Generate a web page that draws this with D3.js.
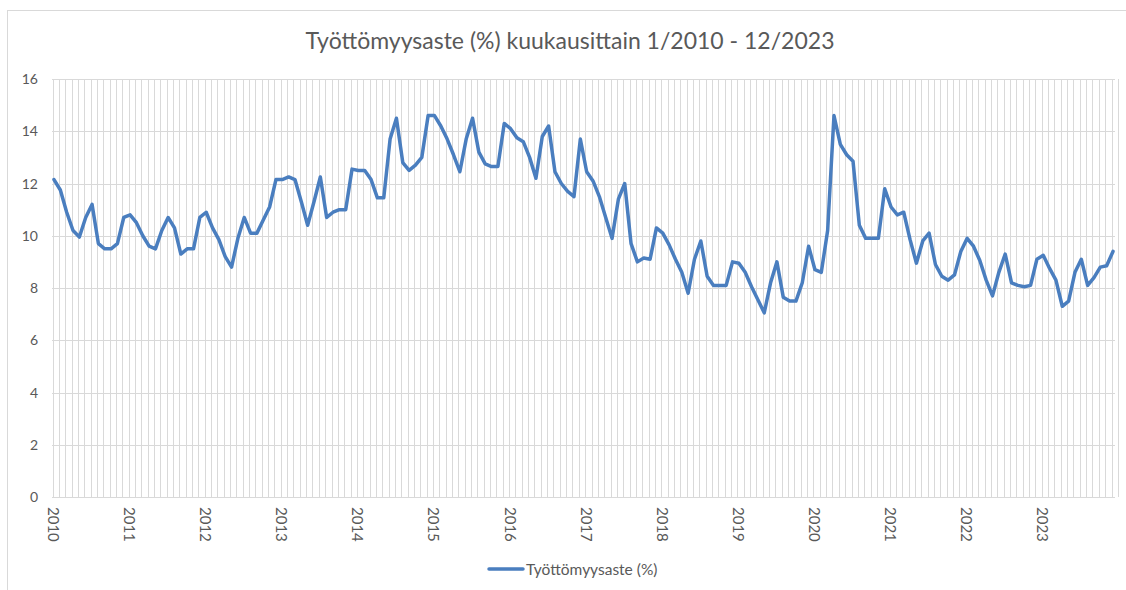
<!DOCTYPE html>
<html>
<head>
<meta charset="utf-8">
<script src="https://cdn.jsdelivr.net/npm/d3@7"></script>
<style>
  body { margin: 0; background: #fff; }
  text { font-family: Lato, "Open Sans", sans-serif; }
</style>
</head>
<body>
<div id="viz"></div>
<script>

var years = [2010, 2011, 2012, 2013, 2014, 2015, 2016, 2017, 2018, 2019, 2020, 2021, 2022, 2023];
var yTicks = [0, 2, 4, 6, 8, 10, 12, 14, 16];
var seriesName = "Työttömyysaste (%)";
var title = "Työttömyysaste (%) kuukausittain 1/2010 - 12/2023";

// monthly values, one row per year
var v2010 = [12.15, 11.75, 10.9, 10.2, 9.95, 10.7, 11.2, 9.7, 9.5, 9.5, 9.7, 10.7];
var v2011 = [10.8, 10.5, 10.0, 9.6, 9.5, 10.2, 10.7, 10.3, 9.3, 9.5, 9.5, 10.7];
var v2012 = [10.9, 10.3, 9.85, 9.2, 8.8, 9.9, 10.7, 10.1, 10.1, 10.6, 11.1, 12.15];
var v2013 = [12.15, 12.25, 12.15, 11.3, 10.4, 11.3, 12.25, 10.7, 10.9, 11.0, 11.0, 12.55];
var v2014 = [12.5, 12.5, 12.15, 11.45, 11.45, 13.7, 14.5, 12.8, 12.5, 12.7, 13.0, 14.6];
var v2015 = [14.6, 14.2, 13.7, 13.1, 12.45, 13.7, 14.5, 13.2, 12.75, 12.65, 12.65, 14.3];
var v2016 = [14.1, 13.75, 13.6, 13.0, 12.2, 13.8, 14.2, 12.45, 12.0, 11.7, 11.5, 13.7];
var v2017 = [12.45, 12.1, 11.5, 10.7, 9.9, 11.4, 12.0, 9.7, 9.0, 9.15, 9.1, 10.3];
var v2018 = [10.1, 9.65, 9.1, 8.6, 7.8, 9.1, 9.8, 8.45, 8.1, 8.1, 8.1, 9.0];
var v2019 = [8.95, 8.6, 8.05, 7.55, 7.05, 8.2, 9.0, 7.65, 7.5, 7.5, 8.2, 9.6];
var v2020 = [8.7, 8.6, 10.2, 14.6, 13.5, 13.1, 12.85, 10.4, 9.9, 9.9, 9.9, 11.8];
var v2021 = [11.1, 10.8, 10.9, 9.85, 8.95, 9.8, 10.1, 8.9, 8.45, 8.3, 8.5, 9.4];
var v2022 = [9.9, 9.6, 9.05, 8.3, 7.7, 8.6, 9.3, 8.2, 8.1, 8.05, 8.1, 9.1];
var v2023 = [9.25, 8.75, 8.3, 7.3, 7.5, 8.6, 9.1, 8.1, 8.4, 8.8, 8.85, 9.4];

var rows = [v2010, v2011, v2012, v2013, v2014, v2015, v2016, v2017, v2018, v2019, v2020, v2021, v2022, v2023];

var dat = [];
rows.forEach(function(r, yi) {
	r.forEach(function(v, m) { dat.push({ year: years[yi], month: m, i: yi * 12 + m, value: v }); });
});

var viz = { width: 1126, height: 590 };
var plot = { left: 54, right: 1113, top: 79, bottom: 497 };

var svg = d3.select("#viz")
	.append("svg")
	.attr("width", viz.width)
	.attr("height", viz.height);

// chart frame
svg.append("rect")
	.attr("x", 7.5).attr("y", 10.5)
	.attr("width", 1130).attr("height", 590)
	.attr("fill", "#fff")
	.attr("stroke", "#d9d9d9");

var x = d3.scaleLinear().domain([0, dat.length - 1]).range([plot.left, plot.right]);
var y = d3.scaleLinear().domain([0, 16]).range([plot.bottom, plot.top]);

// vertical gridlines, one per month
svg.append("g")
	.selectAll("line")
	.data(d3.range(dat.length + 1)).enter()
	.append("line")
	.attr("x1", function(d) { return Math.round(x(d) - 1.5) + 0.5 })
	.attr("x2", function(d) { return Math.round(x(d) - 1.5) + 0.5 })
	.attr("y1", plot.top).attr("y2", plot.bottom)
	.attr("stroke", "#d9d9d9");

// horizontal gridlines
svg.append("g")
	.selectAll("line")
	.data(yTicks).enter()
	.append("line")
	.attr("x1", plot.left - 2).attr("x2", plot.right + 2)
	.attr("y1", function(d) { return Math.round(y(d)) + 0.5 })
	.attr("y2", function(d) { return Math.round(y(d)) + 0.5 })
	.attr("stroke", "#d9d9d9");

// y tick labels
svg.append("g")
	.selectAll("text")
	.data(yTicks).enter()
	.append("text")
	.attr("x", 38)
	.attr("y", function(d) { return y(d) + 5 })
	.attr("text-anchor", "end")
	.attr("font-size", 14)
	.attr("fill", "#595959")
	.text(function(d) { return d });

// year labels, rotated
svg.append("g")
	.selectAll("text")
	.data(years).enter()
	.append("text")
	.attr("transform", function(d, i) { return "translate(" + (x(i * 12) - 6) + "," + 507 + ") rotate(90)" })
	.attr("font-size", 15)
	.attr("fill", "#595959")
	.text(function(d) { return d });

// the series
var line = d3.line()
	.x(function(d) { return x(d.i) })
	.y(function(d) { return y(d.value) });

svg.append("path")
	.datum(dat)
	.attr("d", line)
	.attr("fill", "none")
	.attr("stroke", "#4a7ebf")
	.attr("stroke-width", 3.5)
	.attr("stroke-linejoin", "round")
	.attr("stroke-linecap", "round");

// title
svg.append("text")
	.attr("x", 570).attr("y", 49)
	.attr("text-anchor", "middle")
	.attr("font-size", 23)
	.attr("fill", "#595959")
	.text(title);

// legend
svg.append("line")
	.attr("x1", 489).attr("x2", 523)
	.attr("y1", 569).attr("y2", 569)
	.attr("stroke", "#4a7ebf")
	.attr("stroke-width", 3.5)
	.attr("stroke-linecap", "round");

svg.append("text")
	.attr("x", 526).attr("y", 575)
	.attr("font-size", 15.5)
	.attr("fill", "#595959")
	.text(seriesName);

</script>
</body>
</html>
